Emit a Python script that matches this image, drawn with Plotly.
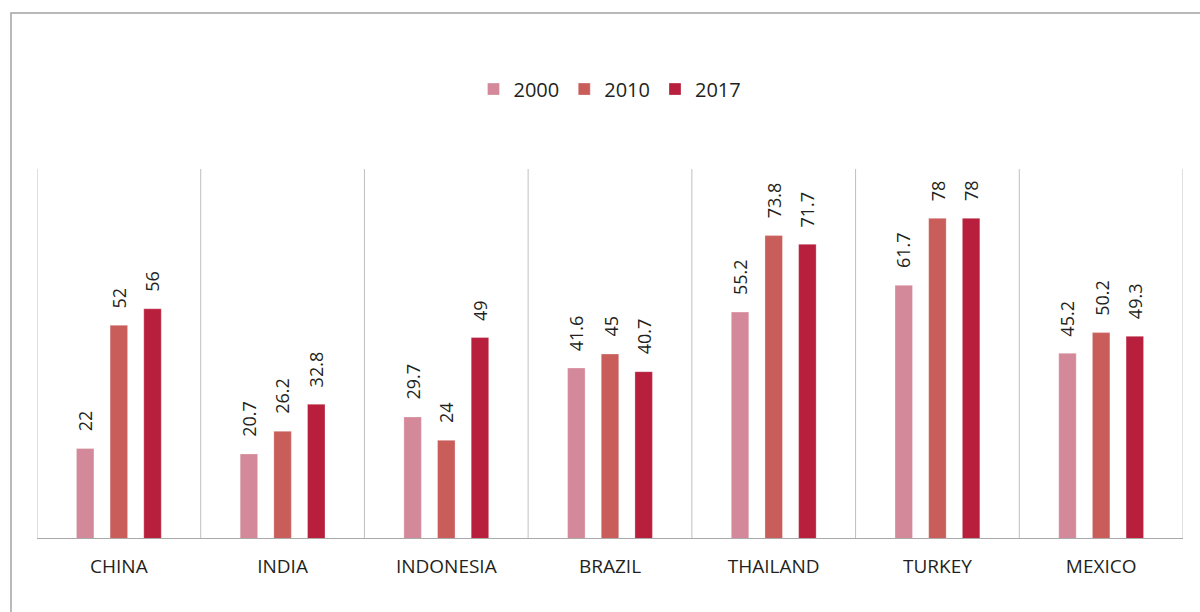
import plotly.graph_objects as go

# Share values per country for three reference years
countries = ["CHINA", "INDIA", "INDONESIA", "BRAZIL", "THAILAND", "TURKEY", "MEXICO"]
years = ["2000", "2010", "2017"]
values_2000 = [22, 20.7, 29.7, 41.6, 55.2, 61.7, 45.2]
values_2010 = [52, 26.2, 24, 45, 73.8, 78, 50.2]
values_2017 = [56, 32.8, 49, 40.7, 71.7, 78, 49.3]

series = [values_2000, values_2010, values_2017]
colors = ["#D4899A", "#C95D5A", "#B71F3C"]

FONT = "Open Sans"
TEXT_COLOR = "#231F20"

fig = go.Figure()
for name, vals, col in zip(years, series, colors):
    fig.add_trace(go.Bar(
        x=countries, y=vals, name=name,
        marker=dict(color=col, line=dict(width=1, color="rgba(255,255,255,0.3)")),
        hoverinfo="x+y+name",
    ))

# Rotated value labels above each bar
offset = 0.2057  # bar slot spacing in category units
annotations = []
for j, vals in enumerate(series):
    for i, v in enumerate(vals):
        annotations.append(dict(
            x=i + (j - 1) * offset, y=v, xref="x", yref="y",
            text=f"{v:g}", showarrow=False, textangle=-90,
            xanchor="center", yanchor="bottom", yshift=15,
            font=dict(family=FONT, size=18, color=TEXT_COLOR),
        ))

shapes = []
# vertical separators between categories
for k in range(len(countries) + 1):
    shapes.append(dict(
        type="line", xref="x", yref="y", x0=k - 0.5, x1=k - 0.5, y0=0, y1=90,
        line=dict(color="#BFBFBF", width=1), layer="below",
    ))
# baseline
shapes.append(dict(
    type="line", xref="paper", yref="y", x0=0, x1=1, y0=0, y1=0,
    line=dict(color="#A9A9A9", width=2),
))
# outer frame
shapes.append(dict(
    type="rect", xref="paper", yref="paper",
    x0=-0.0227, x1=1.05, y0=-0.3, y1=1.4216,
    line=dict(color="#A3A3A3", width=1.5), fillcolor="rgba(0,0,0,0)",
))

fig.update_layout(
    width=1200, height=612,
    margin=dict(l=37, r=17, t=169, b=73),
    paper_bgcolor="white", plot_bgcolor="white",
    barmode="group", bargap=0.383, bargroupgap=0.48,
    font=dict(family=FONT, color=TEXT_COLOR),
    showlegend=True,
    legend=dict(
        orientation="h", x=0.5, xanchor="center", y=1.216, yanchor="middle",
        font=dict(family=FONT, size=20, color=TEXT_COLOR),
        itemwidth=30,
    ),
    annotations=annotations,
    shapes=shapes,
)
fig.update_xaxes(
    type="category", showgrid=False, zeroline=False, showline=False,
    ticks="", ticklabelstandoff=14,
    tickfont=dict(family=FONT, size=19, color=TEXT_COLOR),
    range=[-0.5, len(countries) - 0.5],
)
fig.update_yaxes(
    range=[0, 90], showgrid=False, zeroline=False, showline=False,
    showticklabels=False, ticks="",
)

fig.write_html("out.html")
